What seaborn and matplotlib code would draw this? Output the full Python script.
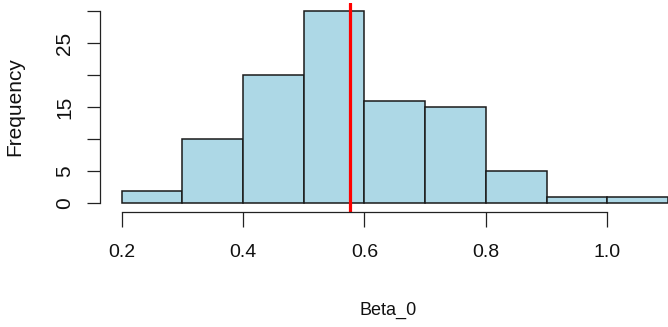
import numpy as np
import matplotlib
matplotlib.use("Agg")
import matplotlib.pyplot as plt
import seaborn as sns

# Data
bin_edges = [0.2, 0.3, 0.4, 0.5, 0.6, 0.7, 0.8, 0.9, 1.0, 1.1]
counts = [2, 10, 20, 30, 16, 15, 5, 1, 1]
mean_value = 0.576
x_ticks = [0.2, 0.4, 0.6, 0.8, 1.0]
x_tick_labels = ["0.2", "0.4", "0.6", "0.8", "1.0"]
y_ticks = [0, 5, 10, 15, 20, 25, 30]
y_tick_labels = ["0", "5", "", "15", "", "25", ""]

sns.set_style("white")
plt.rcParams['font.family'] = ['Liberation Sans', 'DejaVu Sans']

W, H = 668, 327
fig = plt.figure(figsize=(W / 100, H / 100), dpi=100)
# plot region in pixels: left 99.7, right 690 (cropped), top 3.3, bottom 212.3
left, right, top, bottom = 99.7, 690.0, 3.3, 212.3
ax = fig.add_axes([left / W, 1 - bottom / H, (right - left) / W, (bottom - top) / H])

mids = [(bin_edges[i] + bin_edges[i + 1]) / 2 for i in range(len(counts))]
sns.histplot(x=mids, weights=counts, bins=bin_edges, color="#ADD8E6",
             edgecolor="#1a1a1a", linewidth=1.1, alpha=1, ax=ax)
ax.axvline(mean_value, color="red", linewidth=2.3)

ax.set_xlim(0.164, 1.136)
ax.set_ylim(-1.4, 31.25)

for s in ["top", "right"]:
    ax.spines[s].set_visible(False)
ax.spines["left"].set_bounds(0, 30)
ax.spines["bottom"].set_bounds(0.2, 1.0)
for s in ["left", "bottom"]:
    ax.spines[s].set_color("#222222")
    ax.spines[s].set_linewidth(0.9)

ax.set_xticks(x_ticks)
ax.set_xticklabels(x_tick_labels, fontsize=14, color="#111111")
ax.set_yticks(y_ticks)
ax.set_yticklabels(y_tick_labels, fontsize=15, rotation=90, va="center", color="#111111")
ax.tick_params(axis="x", direction="out", length=10.5, width=0.9, color="#222222", pad=12, bottom=True)
ax.tick_params(axis="y", direction="out", length=9.4, width=0.9, color="#222222", pad=9, left=True)

ax.set_xlabel("")
ax.set_ylabel("")
fig.text(388 / W, 1 - 315 / H, "Beta_0", ha="center", va="baseline", fontsize=13, color="#111111")
fig.text(15 / W, 1 - 107 / H, "Frequency", ha="center", va="center", rotation=90,
         fontsize=15, color="#111111")

fig.savefig("out.png", dpi=100)
